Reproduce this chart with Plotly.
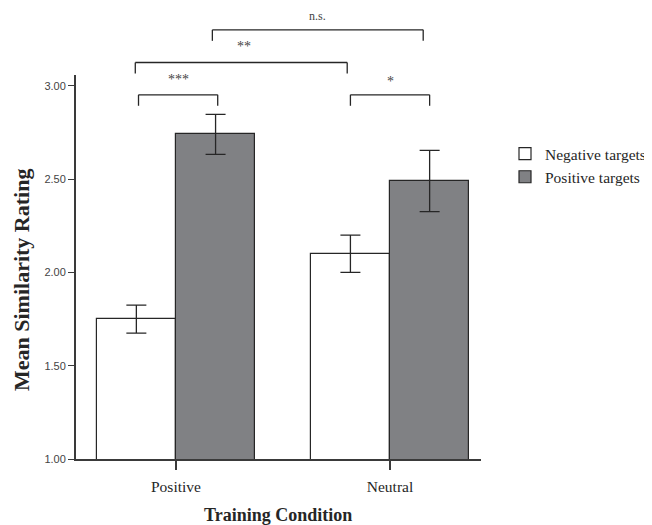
import plotly.graph_objects as go

# ---- data ----
categories = ["Positive", "Neutral"]
neg_means = [1.75, 2.10]
neg_err = [0.075, 0.10]
pos_means = [2.74, 2.49]
pos_err = [0.107, 0.164]
y_ticks = [1.0, 1.5, 2.0, 2.5, 3.0]
y_ticklabels = ["1.00", "1.50", "2.00", "2.50", "3.00"]
# significance brackets: (x0, x1, level, label)
brackets = [
    (-0.175, 0.195, 2.952, "***"),
    (-0.19, 0.80, 3.125, "**"),
    (0.17, 1.155, 3.30, "n.s."),
    (0.815, 1.185, 2.952, "*"),
]
label_offsets = {"***": 15, "**": 16, "n.s.": 14, "*": 13}

SERIF = "Liberation Serif, Times New Roman, serif"
SANS = "Liberation Sans, Arial, sans-serif"
INK = "#262626"

x_pos = list(range(len(categories)))
Y0, Y1 = 1.0, 3.058
PLOT_H = 384.0
PLOT_W = 405.0
# page body has an 8px margin; compensate so plot sits where the reference has it
OFF = 8
L, T = 76 - OFF, 75 - OFF
W, H = 652 - OFF, 525 - OFF
BOTTOM = 459  # pixel y of plot bottom in reference

fig = go.Figure()
fig.add_trace(go.Bar(
    x=x_pos, y=neg_means, name="Negative targets", width=0.37, offset=-0.37,
    marker=dict(color="white", line=dict(color=INK, width=1.2)),
    error_y=dict(type="data", array=neg_err, color=INK, thickness=1.3, width=10),
))
fig.add_trace(go.Bar(
    x=x_pos, y=pos_means, name="Positive targets", width=0.37, offset=0.0,
    marker=dict(color="#808184", line=dict(color=INK, width=1.2)),
    error_y=dict(type="data", array=pos_err, color=INK, thickness=1.3, width=10),
))

def to_paper(v):
    return (v - Y0) / (Y1 - Y0)

shapes = []
annotations = []
for x0, x1, lvl, lab in brackets:
    ytop = to_paper(lvl)
    ybot = ytop - 11 / PLOT_H
    for xs, ys in [((x0, x0), (ybot, ytop)), ((x0, x1), (ytop, ytop)), ((x1, x1), (ytop, ybot))]:
        shapes.append(dict(type="line", xref="x", yref="paper", x0=xs[0], x1=xs[1],
                           y0=ys[0], y1=ys[1], line=dict(color=INK, width=1.3)))
    is_ns = lab == "n.s."
    annotations.append(dict(x=(x0 + x1) / 2 + (0.015 if lab == "**" else 0),
                            y=ytop + label_offsets[lab] / PLOT_H,
                            xref="x", yref="paper", text=lab, showarrow=False,
                            font=dict(family=SERIF, size=12 if is_ns else 14, color="#444"),
                            yanchor="middle", borderpad=0))

# axis titles as annotations (placed precisely)
annotations.append(dict(x=-55 / PLOT_W, y=(BOTTOM - 280) / PLOT_H, xref="paper", yref="paper",
                        text="<b>Mean Similarity Rating</b>", showarrow=False, textangle=-90,
                        font=dict(family=SERIF, size=22, color=INK),
                        xanchor="center", yanchor="middle"))
annotations.append(dict(x=(278 - 76) / PLOT_W, y=-(515 - BOTTOM) / PLOT_H, xref="paper", yref="paper",
                        text="<b>Training Condition</b>", showarrow=False,
                        font=dict(family=SERIF, size=18, color=INK),
                        xanchor="center", yanchor="middle"))

fig.update_layout(
    width=W, height=H,
    margin=dict(l=L, r=W - L - PLOT_W, t=T, b=H - T - PLOT_H, autoexpand=False),
    plot_bgcolor="white", paper_bgcolor="white",
    barmode="overlay", bargap=0,
    shapes=shapes, annotations=annotations,
    showlegend=True,
    legend=dict(x=(505 - 76) / PLOT_W, y=(BOTTOM - 137) / PLOT_H, xanchor="left", yanchor="top",
                font=dict(family=SERIF, size=15.5, color=INK),
                bgcolor="rgba(0,0,0,0)", tracegroupgap=0),
    xaxis=dict(range=[-0.467, 1.425], tickvals=x_pos, ticktext=categories,
               showline=True, linecolor="#3a3a3a", linewidth=2, ticks="outside",
               ticklen=9, tickcolor="#3a3a3a", tickwidth=1.5, showgrid=False, zeroline=False,
               automargin=False, ticklabelstandoff=3,
               tickfont=dict(family=SERIF, size=15.5, color=INK)),
    yaxis=dict(range=[Y0, Y1], tickvals=y_ticks, ticktext=y_ticklabels,
               showline=True, linecolor="#3a3a3a", linewidth=2, ticks="outside",
               ticklen=6, tickcolor="#3a3a3a", tickwidth=1.3, showgrid=False, zeroline=False,
               automargin=False,
               tickfont=dict(family=SANS, size=11, color="#444")),
)
fig.write_html("out.html")
